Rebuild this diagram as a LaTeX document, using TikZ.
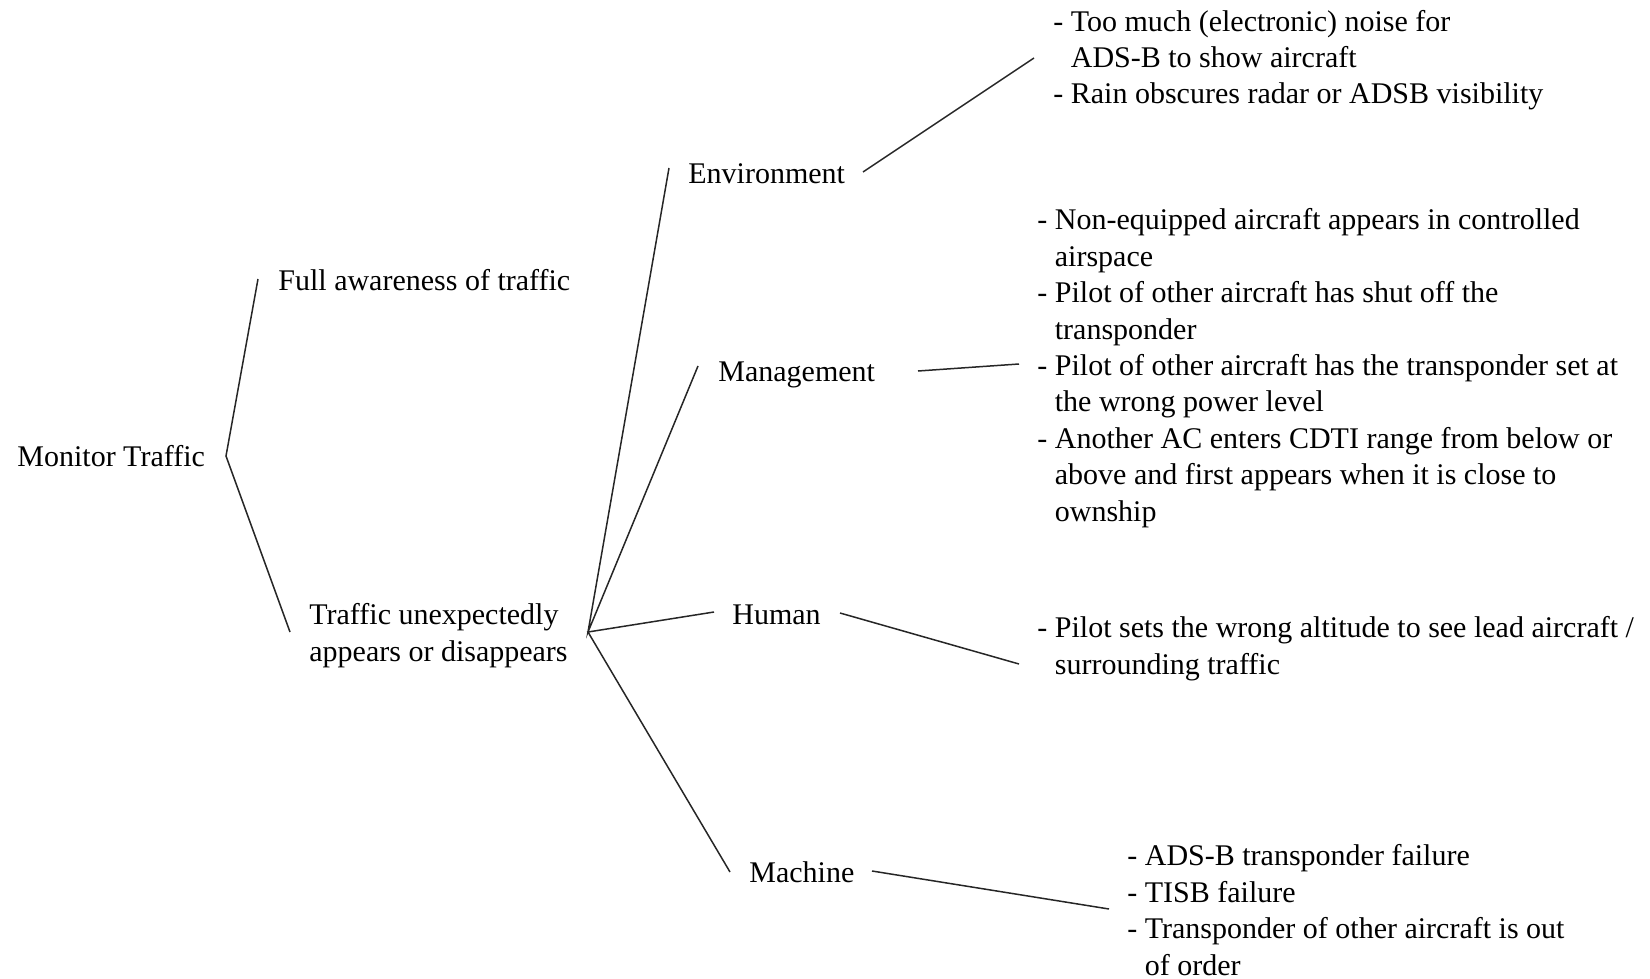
\documentclass[tikz,border=0pt]{standalone}
\usepackage{fontspec}
\setmainfont{Liberation Serif}
\begin{document}
\begin{tikzpicture}[x=0.5pt,y=-0.5pt,
  txt/.style={inner sep=0pt, anchor=base west, font=\fontsize{15}{18.2}\selectfont, align=left},
  conn/.style={line width=0.75pt, black!85}]
\useasboundingbox (0,0) rectangle (1650,979);
% nodes (base anchor = baseline of last line)
\node[txt] (root) at (17,466) {Monitor Traffic};
\node[txt] (full) at (278,290) {Full awareness of traffic};
\node[txt] (traf) at (309,661) {Traffic unexpectedly\\appears or disappears};
\node[txt] (env) at (688,184) {Environment};
\node[txt] (mgmt) at (718,381) {Management};
\node[txt] (hum) at (732,624) {Human};
\node[txt] (mach) at (749,882) {Machine};
\node[txt] (envL) at (1053,104) {- Too much (electronic) noise for\\\phantom{- }ADS-B to show aircraft\\- Rain obscures radar or ADSB visibility};
\node[txt] (mgmtL) at (1037,521) {- Non-equipped aircraft appears in controlled\\\phantom{- }airspace\\- Pilot of other aircraft has shut off the\\\phantom{- }transponder\\- Pilot of other aircraft has the transponder set at\\\phantom{- }the wrong power level\\- Another AC enters CDTI range from below or\\\phantom{- }above and first appears when it is close to\\\phantom{- }ownship};
\node[txt] (humL) at (1037,674) {- Pilot sets the wrong altitude to see lead aircraft /\\\phantom{- }surrounding traffic};
\node[txt] (machL) at (1127,975) {- ADS-B transponder failure\\- TISB failure\\- Transponder of other aircraft is out\\\phantom{- }of order};
% connector points
\coordinate (rootR) at (226,456);
\coordinate (fullL) at (258,279);
\coordinate (trafL) at (290,632);
\coordinate (hub) at (588,632);
\coordinate (envIn) at (669,168);
\coordinate (mgmtIn) at (698,366);
\coordinate (humIn) at (714,612);
\coordinate (machIn) at (730,872);
\coordinate (envOut) at (863,172);
\coordinate (envLIn) at (1034,58);
\coordinate (mgmtOut) at (918,371);
\coordinate (mgmtLIn) at (1019,364);
\coordinate (humOut) at (840,613);
\coordinate (humLIn) at (1019,664);
\coordinate (machOut) at (872,871);
\coordinate (machLIn) at (1109,909);
% connectors
\draw[conn] (fullL) -- (rootR) -- (trafL);
\draw[conn] (envIn) -- (hub) -- (mgmtIn);
\draw[conn] (humIn) -- (hub) -- (machIn);
\draw[conn] (envOut) -- (envLIn);
\draw[conn] (mgmtOut) -- (mgmtLIn);
\draw[conn] (humOut) -- (humLIn);
\draw[conn] (machOut) -- (machLIn);
\end{tikzpicture}
\end{document}
